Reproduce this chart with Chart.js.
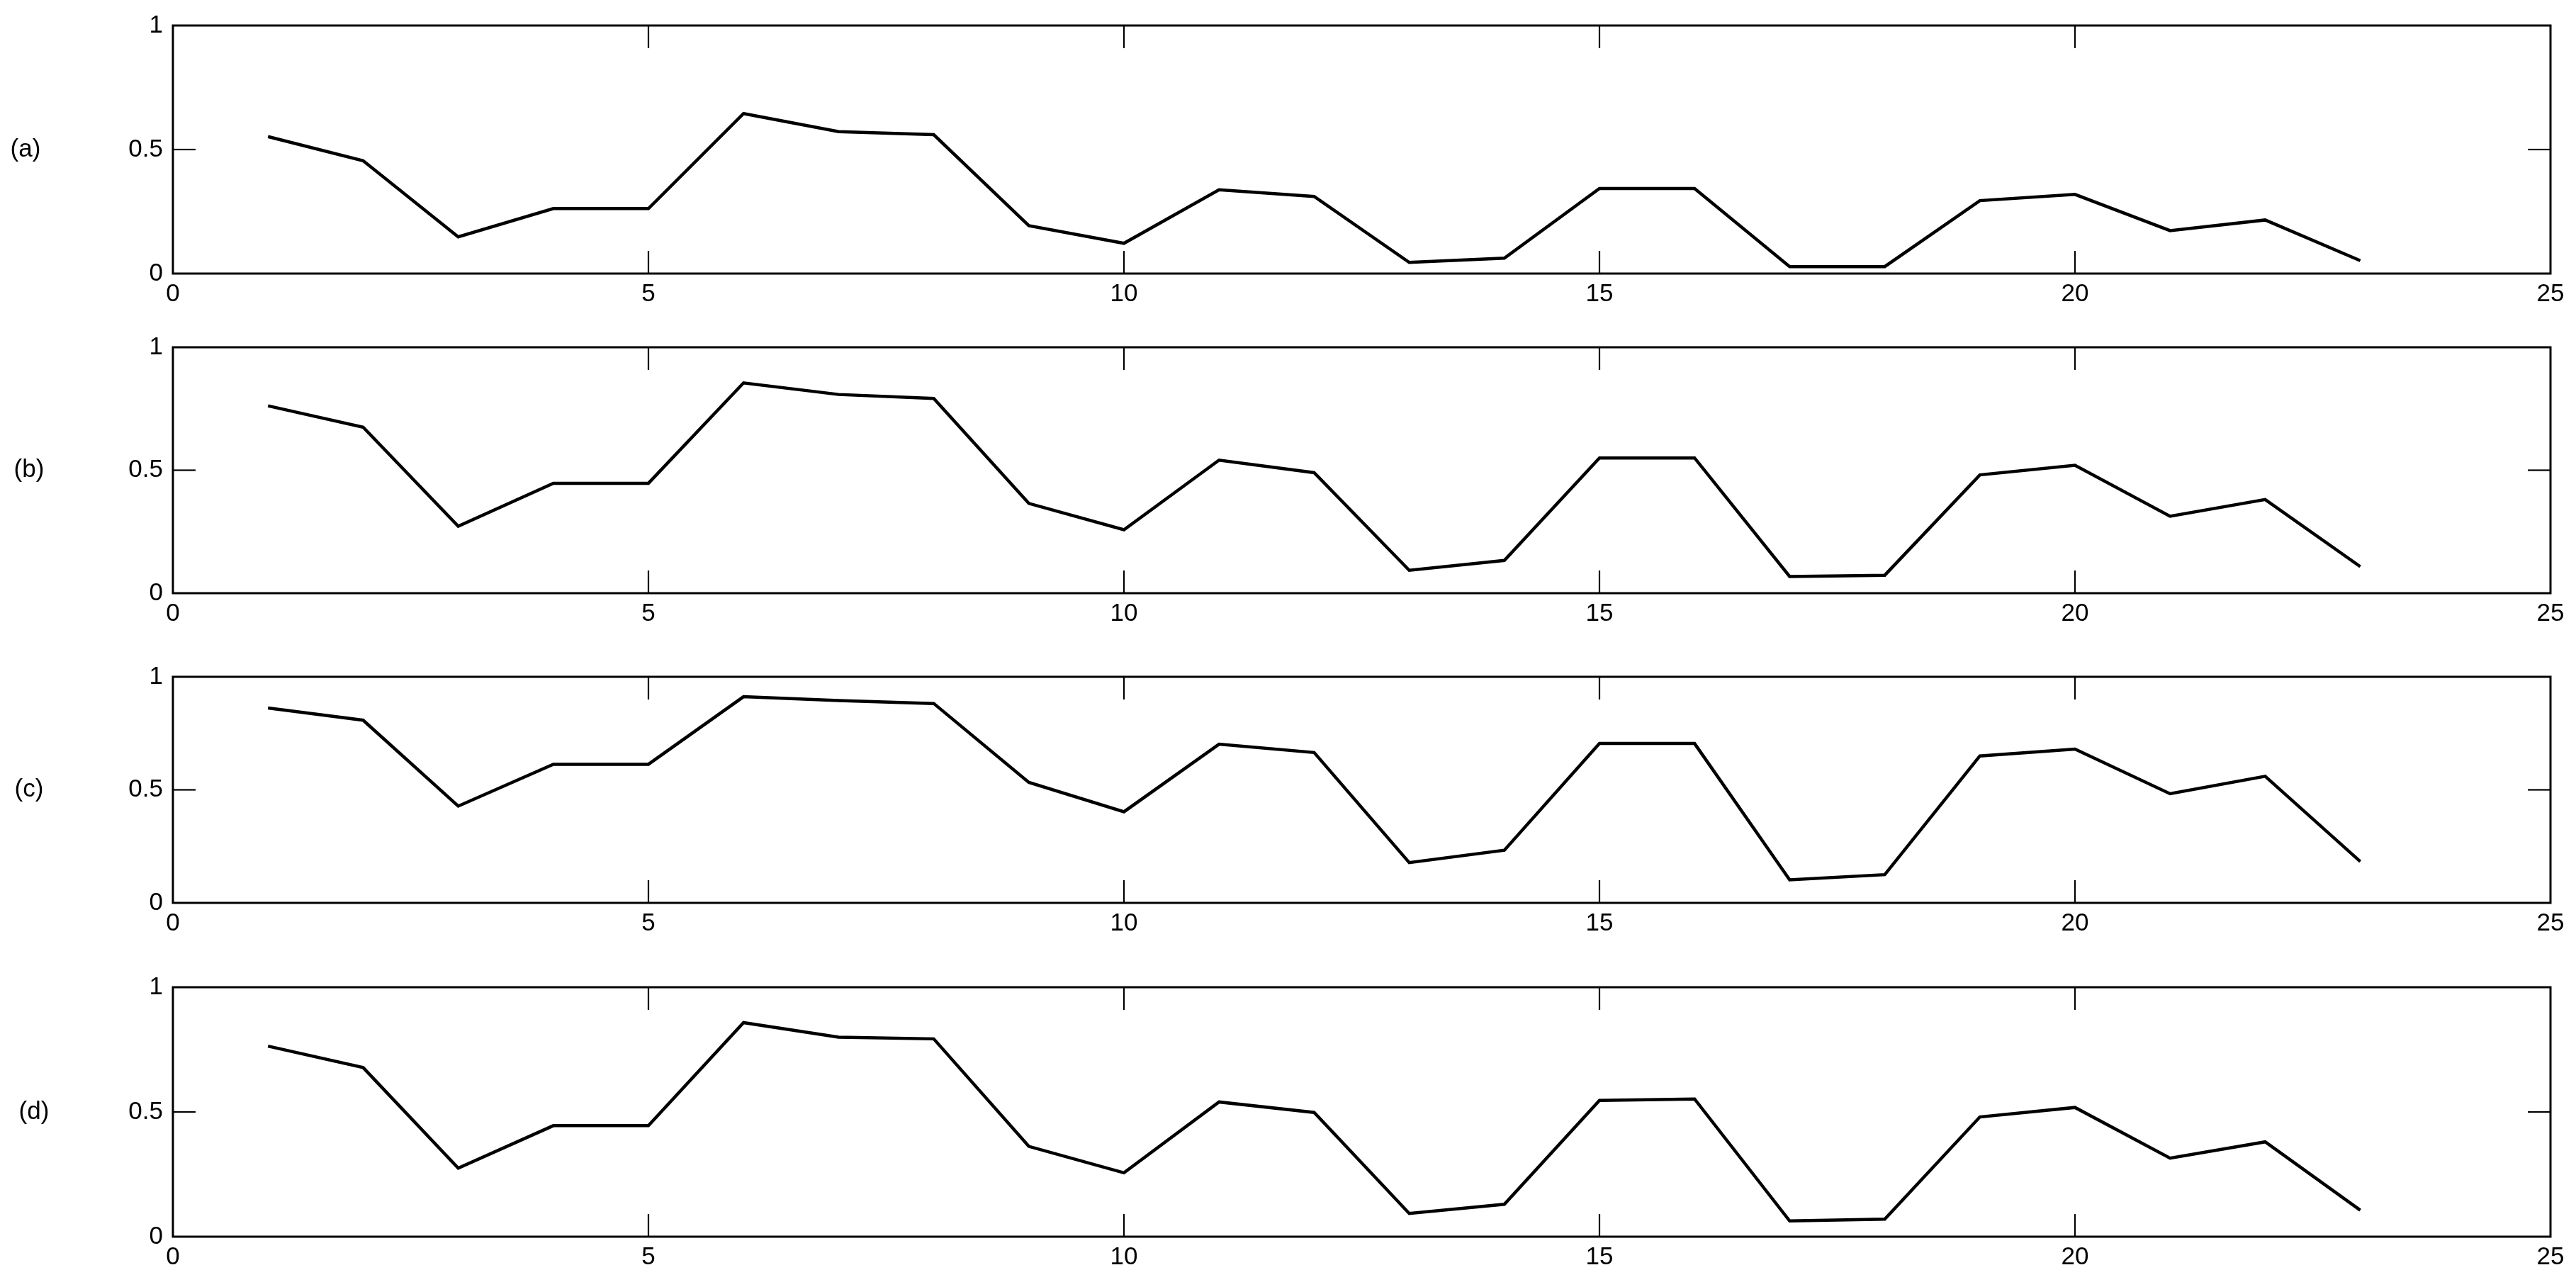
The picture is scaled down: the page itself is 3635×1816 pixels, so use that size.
<!DOCTYPE html>
<html>
<head>
<meta charset="utf-8">
<script src="https://cdn.jsdelivr.net/npm/chart.js@4.4.1/dist/chart.umd.min.js"></script>
<style>
  html, body { margin: 0; padding: 0; background: #fff; }
  body { width: 3635px; height: 1816px; position: relative; overflow: hidden; }
  canvas { position: absolute; left: 0; }
</style>
</head>
<body>
<canvas id="panelA"></canvas>
<canvas id="panelB"></canvas>
<canvas id="panelC"></canvas>
<canvas id="panelD"></canvas>
<script>
// data
const steps = [1, 2, 3, 4, 5, 6, 7, 8, 9, 10, 11, 12, 13, 14, 15, 16, 17, 18, 19, 20, 21, 22, 23];
const seriesA = [0.552, 0.455, 0.148, 0.262, 0.262, 0.645, 0.572, 0.560, 0.193, 0.122, 0.338, 0.311,
                 0.045, 0.062, 0.343, 0.343, 0.028, 0.028, 0.294, 0.319, 0.173, 0.216, 0.052];
const seriesB = [0.762, 0.675, 0.272, 0.447, 0.447, 0.855, 0.808, 0.792, 0.365, 0.258, 0.541, 0.490,
                 0.093, 0.133, 0.550, 0.550, 0.068, 0.073, 0.481, 0.520, 0.313, 0.381, 0.108];
const seriesC = [0.862, 0.808, 0.428, 0.613, 0.613, 0.912, 0.895, 0.882, 0.533, 0.403, 0.702, 0.665,
                 0.178, 0.233, 0.705, 0.705, 0.102, 0.125, 0.650, 0.680, 0.483, 0.560, 0.183];
const seriesD = [0.764, 0.678, 0.275, 0.445, 0.445, 0.858, 0.800, 0.793, 0.362, 0.256, 0.540, 0.498,
                 0.093, 0.130, 0.546, 0.552, 0.063, 0.070, 0.480, 0.518, 0.315, 0.380, 0.106];
const xTicks = [0, 5, 10, 15, 20, 25];
const yTicks = [0, 0.5, 1];
const panelLabels = ["(a)", "(b)", "(c)", "(d)"];

const FONT = '"Liberation Sans", Arial, sans-serif';
const PAD_TOP = 40;
const AXIS_H = 70;

// box + inward ticks like a matlab axes, plus the (a)...(d) tag
const matlabFrame = {
  id: "matlabFrame",
  afterDraw(chart, args, opts) {
    const { ctx, chartArea: a, scales: { x, y } } = chart;
    const line = (x1, y1, x2, y2) => {
      ctx.beginPath();
      ctx.moveTo(x1, y1);
      ctx.lineTo(x2, y2);
      ctx.stroke();
    };
    ctx.save();
    ctx.strokeStyle = "#000";
    ctx.lineWidth = 2.2;
    xTicks.slice(1, -1).forEach((v) => {
      const px = x.getPixelForValue(v);
      line(px, a.bottom, px, a.bottom - 32);
      line(px, a.top, px, a.top + 32);
    });
    yTicks.slice(1, -1).forEach((v) => {
      const py = y.getPixelForValue(v);
      line(a.left, py, a.left + 32, py);
      line(a.right, py, a.right - 32, py);
    });
    ctx.lineWidth = 3;
    ctx.strokeRect(a.left, a.top, a.width, a.height);

    ctx.fillStyle = "#000";
    ctx.font = "35px " + FONT;
    ctx.textAlign = "center";
    ctx.textBaseline = "middle";
    ctx.fillText(opts.label, opts.labelX, y.getPixelForValue(0.5));
    ctx.restore();
  },
};

const panels = [
  { id: "panelA", values: seriesA, top: 36, bottom: 386, labelX: 36 },
  { id: "panelB", values: seriesB, top: 490, bottom: 837, labelX: 41 },
  { id: "panelC", values: seriesC, top: 955, bottom: 1274, labelX: 41 },
  { id: "panelD", values: seriesD, top: 1393, bottom: 1745, labelX: 48 },
];

panels.forEach((p, i) => {
  const canvas = document.getElementById(p.id);
  canvas.width = 3635;
  canvas.height = p.bottom - p.top + PAD_TOP + AXIS_H;
  canvas.style.top = (p.top - PAD_TOP) + "px";

  new Chart(canvas.getContext("2d"), {
    type: "line",
    data: {
      datasets: [
        {
          data: steps.map((s, k) => ({ x: s, y: p.values[k] })),
          borderColor: "#000",
          borderWidth: 4.5,
          pointRadius: 0,
          tension: 0,
          fill: false,
        },
      ],
    },
    options: {
      responsive: false,
      animation: false,
      layout: { padding: { top: PAD_TOP, right: 36, left: 0, bottom: 0 } },
      plugins: {
        legend: { display: false },
        tooltip: { enabled: false },
        matlabFrame: { label: panelLabels[i], labelX: p.labelX },
      },
      scales: {
        x: {
          type: "linear",
          min: 0,
          max: 25,
          afterBuildTicks: (s) => { s.ticks = xTicks.map((v) => ({ value: v })); },
          afterFit: (s) => { s.height = AXIS_H; },
          grid: { display: false, drawTicks: false },
          border: { display: false },
          ticks: { padding: 8, color: "#000", font: { family: FONT, size: 35 }, maxRotation: 0, autoSkip: false },
        },
        y: {
          min: 0,
          max: 1,
          afterBuildTicks: (s) => { s.ticks = yTicks.map((v) => ({ value: v })); },
          afterFit: (s) => { s.width = 244; },
          grid: { display: false, drawTicks: false },
          border: { display: false },
          ticks: {
            padding: 14,
            color: "#000",
            font: { family: FONT, size: 35 },
            callback: (v) => String(v),
          },
        },
      },
    },
    plugins: [matlabFrame],
  });
});
</script>
</body>
</html>
